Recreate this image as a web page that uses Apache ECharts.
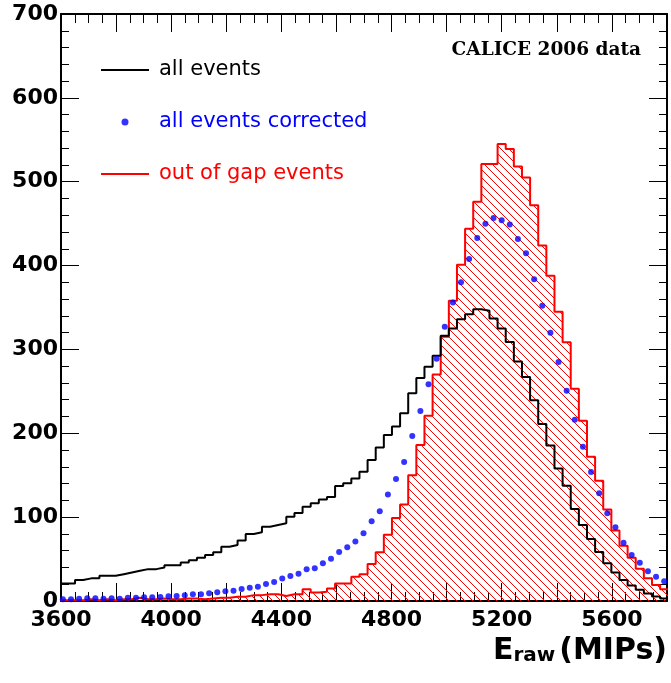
<!DOCTYPE html>
<html>
<head>
<meta charset="utf-8">
<script src="https://cdn.jsdelivr.net/npm/echarts@6/dist/echarts.min.js"></script>
<style>
  html, body { margin: 0; padding: 0; background: #fff; }
  #chart { width: 671px; height: 683px; }
</style>
</head>
<body>
<div id="chart"></div>
<script>
// E_raw histograms: 75 bins of 29.5 MIPs, first bin starts at 3592
const BIN_LO = 3592;
const BIN_WIDTH = 29.5;

const allEvents = [
  21, 21, 25, 27, 27, 30, 30, 32, 34, 36,
  38, 38, 40, 42.5, 42.5, 46, 48.5, 51.7, 55, 58,
  64.8, 66.8, 72, 80, 82, 88.6, 90.6, 92.6, 100.5, 105,
  112.5, 116.5, 121, 124, 137, 140.5, 146, 154, 168, 183,
  198, 208, 224, 247.6, 266, 279.4, 292.5, 316.4, 325, 336,
  342, 348, 346, 337, 325, 309, 285.5, 267, 239.5, 211,
  185.5, 158, 137.5, 109.7, 90.6, 74, 58.5, 45, 34, 25,
  18.5, 13.5, 9, 5.5, 3
];

const allEventsCorrected = [
  2, 2, 2.8, 3.2, 3.2, 2.8, 3.2, 2.8, 4, 4,
  4.4, 4.4, 4.8, 5.6, 6, 6.8, 8, 8, 9.1, 10.3,
  11.5, 12.3, 14.3, 15.9, 17.1, 20.3, 22.7, 26.8, 29.8, 32.4,
  37.8, 39, 45, 50.5, 58.4, 64, 71.1, 80.7, 95, 107,
  127, 145.5, 165.8, 196.8, 226.6, 258.4, 289, 327, 356, 380,
  407.8, 433, 450, 456.7, 454, 449, 431.7, 414.6, 383.6, 352,
  320, 285, 250.8, 216, 184, 153.8, 128.4, 104.6, 87.9, 69.5,
  54.9, 45.7, 35.4, 29, 23.5
];

const outOfGapEvents = [
  1, 1, 1, 2, 1, 2, 1, 2, 2, 4,
  2, 2, 3, 2, 2, 3, 3, 2, 3, 4,
  4, 5, 5, 7, 7, 8, 8, 6, 8, 8,
  14, 10, 11, 15, 21, 21, 29, 32, 44, 58,
  79, 99, 115, 150, 186, 221, 270, 315, 358, 401,
  444, 476, 521, 521, 545, 539, 518, 505, 472, 424,
  388, 345, 308.5, 253, 215, 172, 143.5, 109, 84, 66,
  51.6, 38.5, 27, 19, 14
];

// labelled x ticks every 400 MIPs from 3600
const X_LABEL_STEP = 400;

// bin edges -> step line points (last edge repeats the last value)
function stepData(values) {
  const pts = values.map((v, i) => [BIN_LO + i * BIN_WIDTH, v]);
  pts.push([BIN_LO + values.length * BIN_WIDTH, values[values.length - 1]]);
  return pts;
}

function centerData(values) {
  return values.map((v, i) => [BIN_LO + (i + 0.5) * BIN_WIDTH, v]);
}

// red "\" hatching like ROOT fill style
function hatchPattern() {
  const c = document.createElement('canvas');
  c.width = 8;
  c.height = 8;
  const g = c.getContext('2d');
  g.strokeStyle = '#ff0000';
  g.lineWidth = 1;
  g.beginPath();
  [-8, 0, 8].forEach((o) => { g.moveTo(o, 0); g.lineTo(o + 8, 8); });
  g.stroke();
  return c;
}

const FONT = 'DejaVu Sans';
const GRID = { left: 61, right: 4, top: 14, bottom: 82, outerBoundsMode: 'none' };

function xAxisBase(gridIndex, pos, showLabels) {
  return {
    type: 'value',
    gridIndex: gridIndex,
    position: pos,
    min: 3600,
    max: 5800,
    interval: 200,
    axisLine: { show: true, onZero: false, lineStyle: { color: '#000', width: 2 } },
    axisTick: { show: true, inside: true, length: 18, lineStyle: { color: '#000', width: 1 } },
    minorTick: { show: true, splitNumber: 4, length: 9, lineStyle: { color: '#000', width: 1 } },
    splitLine: { show: false },
    axisLabel: {
      show: showLabels,
      margin: 8,
      color: '#000',
      fontFamily: FONT,
      fontWeight: 'bold',
      fontSize: 22,
      formatter: (v) => (v % X_LABEL_STEP === 0 ? String(v) : '')
    }
  };
}

function yAxisBase(gridIndex, pos, showLabels) {
  return {
    type: 'value',
    gridIndex: gridIndex,
    position: pos,
    min: 0,
    max: 700,
    interval: 100,
    axisLine: { show: true, onZero: false, lineStyle: { color: '#000', width: 2 } },
    axisTick: { show: true, inside: true, length: 18, lineStyle: { color: '#000', width: 1 } },
    minorTick: { show: true, splitNumber: 5, length: 8, lineStyle: { color: '#000', width: 1 } },
    splitLine: { show: false },
    axisLabel: {
      show: showLabels,
      margin: 3,
      color: '#000',
      fontFamily: FONT,
      fontWeight: 'bold',
      fontSize: 22
    }
  };
}

const chart = echarts.init(document.getElementById('chart'));

chart.setOption({
  animation: false,
  color: ['#ff0000', '#0000ff', '#000000'],
  // two stacked grids with the same box: bottom/left axes and top/right mirror axes
  grid: [Object.assign({}, GRID), Object.assign({}, GRID)],
  title: {
    text: '{e|E}{s|raw}{e|(MIPs)}',
    right: 4,
    top: 636,
    padding: 0,
    textStyle: {
      rich: {
        e: { fontFamily: FONT, fontWeight: 'bold', fontSize: 30, lineHeight: 30, color: '#000' },
        s: { fontFamily: FONT, fontWeight: 'bold', fontSize: 20, lineHeight: 14, verticalAlign: 'bottom', color: '#000', padding: [0, 4, 0, 0] }
      }
    }
  },
  legend: {
    orient: 'vertical',
    left: 100,
    top: 58,
    padding: 0,
    itemWidth: 48,
    itemHeight: 7,
    itemGap: 28,
    textStyle: { fontFamily: FONT, fontSize: 21, lineHeight: 24, padding: [0, 0, 0, 5] },
    data: [
      { name: 'all events', textStyle: { color: '#000' }, itemStyle: { opacity: 0 } },
      { name: 'all events corrected', textStyle: { color: '#0000ff' } },
      { name: 'out of gap events', textStyle: { color: '#ff0000' }, itemStyle: { opacity: 0 } }
    ]
  },
  graphic: [
    {
      type: 'text',
      right: 30,
      top: 41,
      style: {
        text: 'CALICE 2006 data',
        font: 'bold 18.5px "DejaVu Serif"',
        fill: '#000'
      }
    }
  ],
  xAxis: [xAxisBase(0, 'bottom', true), xAxisBase(1, 'top', false)],
  yAxis: [yAxisBase(0, 'left', true), yAxisBase(1, 'right', false)],
  series: [
    {
      name: 'out of gap events',
      type: 'line',
      xAxisIndex: 0,
      yAxisIndex: 0,
      step: 'end',
      data: stepData(outOfGapEvents),
      symbol: 'none',
      lineStyle: { color: '#ff0000' },
      areaStyle: { color: { image: hatchPattern(), repeat: 'repeat' }, opacity: 1 },
      z: 2
    },
    {
      name: 'all events corrected',
      type: 'scatter',
      xAxisIndex: 0,
      yAxisIndex: 0,
      data: centerData(allEventsCorrected),
      symbolSize: 6,
      z: 4
    },
    {
      name: 'all events',
      type: 'line',
      xAxisIndex: 1,
      yAxisIndex: 1,
      step: 'end',
      data: stepData(allEvents),
      symbol: 'none',
      lineStyle: { color: '#000000' },
      z: 3
    }
  ]
});
</script>
</body>
</html>
